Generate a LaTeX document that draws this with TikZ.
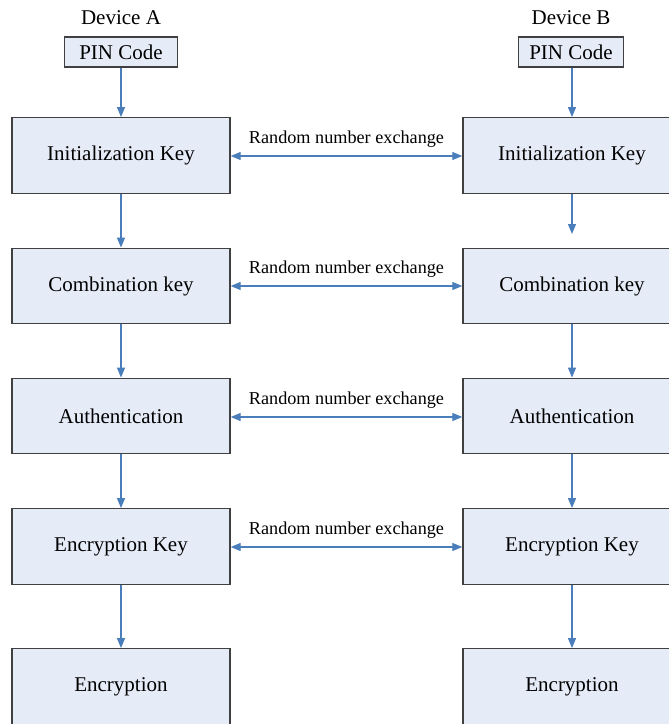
\documentclass[tikz,border=0pt]{standalone}
\usepackage{fontspec}
\setmainfont{LiberationSerif-Regular.ttf}
\usetikzlibrary{arrows.meta}
\definecolor{boxfill}{HTML}{E6ECF7}
\definecolor{boxdraw}{HTML}{404040}
\definecolor{arrowblue}{HTML}{4A7EBB}
\begin{document}
\begin{tikzpicture}[x=1pt,y=-1pt,
  keybox/.style={draw=boxdraw,line width=1.4pt,fill=boxfill,minimum width=218pt,minimum height=75.5pt,inner sep=0pt,font=\fontsize{21}{25}\selectfont},
  pinbox/.style={draw=boxdraw,line width=1.4pt,fill=boxfill,minimum height=30pt,inner sep=0pt,font=\fontsize{21}{25}\selectfont},
  devlabel/.style={inner sep=0pt,font=\fontsize{21}{25}\selectfont},
  xlabel/.style={inner sep=0pt,font=\fontsize{18.2}{22}\selectfont},
  flow/.style={draw=arrowblue,line width=1.2pt,-{Triangle[length=10pt,width=8pt]}},
  xchg/.style={draw=arrowblue,line width=1.2pt,{Triangle[length=10pt,width=8pt]}-{Triangle[length=10pt,width=8pt]}}]
\useasboundingbox (0,0) rectangle (669,724);
\clip (0,0) rectangle (669,724);
\fill[white] (0,0) rectangle (669,724);
% Device A
\node[devlabel] (devA) at (121,18) {Device A};
\node[pinbox,minimum width=113pt] (pinA) at (121,52) {PIN Code};
\node[keybox] (a1) at (121,155.5) {Initialization Key};
\node[keybox] (a2) at (121,286) {Combination key};
\node[keybox] (a3) at (121,416) {Authentication};
\node[keybox] (a4) at (121,546.5) {Encryption Key};
\node[keybox] (a5) at (121,686.5) {Encryption};
% Device B
\node[devlabel] (devB) at (571,18) {Device B};
\node[pinbox,minimum width=105pt] (pinB) at (571,52) {PIN Code};
\node[keybox] (b1) at (572,155.5) {Initialization Key};
\node[keybox] (b2) at (572,286) {Combination key};
\node[keybox] (b3) at (572,416) {Authentication};
\node[keybox] (b4) at (572,546.5) {Encryption Key};
\node[keybox] (b5) at (572,686.5) {Encryption};
\coordinate (b1end) at (572,234);
% vertical flows
\draw[flow] (pinA) -- (a1);
\draw[flow] (a1) -- (a2);
\draw[flow] (a2) -- (a3);
\draw[flow] (a3) -- (a4);
\draw[flow] (a4) -- (a5);
\draw[flow] (pinB.south -| b1.north) -- (b1);
\draw[flow] (b1) -- (b1end);
\draw[flow] (b2) -- (b3);
\draw[flow] (b3) -- (b4);
\draw[flow] (b4) -- (b5);
% exchanges
\draw[xchg] (a1.east |- 0,156) -- node[xlabel,above=8pt] (x1) {Random number exchange} (b1.west |- 0,156);
\draw[xchg] (a2.east |- 0,286) -- node[xlabel,above=8pt] (x2) {Random number exchange} (b2.west |- 0,286);
\draw[xchg] (a3.east |- 0,417) -- node[xlabel,above=8pt] (x3) {Random number exchange} (b3.west |- 0,417);
\draw[xchg] (a4.east |- 0,547) -- node[xlabel,above=8pt] (x4) {Random number exchange} (b4.west |- 0,547);
\end{tikzpicture}
\end{document}
